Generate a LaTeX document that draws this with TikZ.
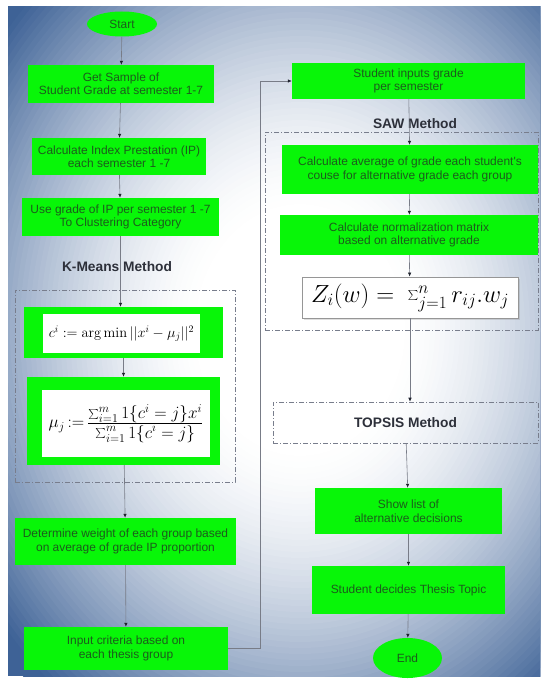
\documentclass[tikz,border=0pt]{standalone}
\usepackage{fontspec}
\newfontfamily\boxfont{Liberation Sans}
\usetikzlibrary{arrows.meta,shapes.geometric,shadows}
\definecolor{boxgreen}{RGB}{8,246,8}
\definecolor{boxtext}{RGB}{28,92,28}
\definecolor{linegray}{RGB}{120,124,135}
\definecolor{tipdark}{RGB}{30,34,45}
\definecolor{framegray}{RGB}{120,125,140}
\definecolor{labelgray}{RGB}{45,48,58}
\definecolor{zborder}{RGB}{150,150,150}
\definecolor{paneldark}{RGB}{62,98,150}
\begin{document}
\begin{tikzpicture}[x=1bp,y=-1bp,>={Latex[length=4bp,width=3.5bp,color=tipdark]},
  greenbox/.style={fill=boxgreen,text=boxtext,align=center,inner sep=0pt,
    font=\boxfont\fontsize{12}{13.5}\selectfont},
  terminal/.style={ellipse,greenbox},
  flowline/.style={draw=linegray,line width=0.6bp},
  groupframe/.style={draw=framegray,line width=0.6bp,dash pattern=on 5bp off 2bp on 1bp off 2bp},
  methodlabel/.style={text=labelgray,inner sep=1bp,font=\boxfont\bfseries\fontsize{13.8}{16}\selectfont},
]
\useasboundingbox (0,0) rectangle (545,682);
  % Background panel
\begin{scope}
\clip (8,7) rectangle (540,676);
\fill[paneldark] (8,7) rectangle (540,676);
\foreach \k in {0,...,60}{
  \pgfmathsetmacro\rr{1-\k/60*0.75}
  \pgfmathsetmacro\pp{max(0,min(100,100*(1-((\rr-0.25)/0.72)^1.6)))}
  \fill[white!\pp!paneldark] (300,330) ellipse [x radius=400*\rr, y radius=480*\rr];
}
\end{scope}
  % Frames
\node[groupframe,minimum width=220bp,minimum height=192bp] (kmframe) at (125,386) {};
\node[groupframe,minimum width=273bp,minimum height=198bp] (sawframe) at (401.5,231) {};
  % Node: left column
\node[terminal,minimum width=70bp,minimum height=25bp] (start) at (122,24) {Start};
\node[greenbox,minimum width=186bp,minimum height=38bp] (getsample) at (121,84) {Get Sample of\\Student Grade at semester 1-7};
\node[greenbox,minimum width=174bp,minimum height=37bp] (calcip) at (119,156.5) {Calculate Index Prestation (IP)\\each semester 1 -7};
\node[greenbox,minimum width=197bp,minimum height=38bp] (usegrade) at (120.5,217) {Use grade of IP per semester 1 -7\\To Clustering Category};
\node[methodlabel] (kmlabel) at (117,267) {K-Means Method};
\node[greenbox,minimum width=198bp,minimum height=51bp] (argmin) at (123.5,332.5) {};
\node[fill=white,inner sep=0pt,minimum width=157bp,minimum height=39bp,font=\fontsize{14.5}{16}\selectfont] (argmintext) at (121.5,333.5) {$c^i := \arg\min||x^i-\mu_j||^2$};
\node[greenbox,minimum width=193bp,minimum height=88bp] (centroid) at (123.5,421) {};
\node[fill=white,inner sep=0pt,minimum width=168bp,minimum height=67bp,font=\fontsize{17}{20}\selectfont] (centroidtext) at (126,423.5)
  {$\mu_j\,{:=}\,\frac{\textstyle\sum_{i=1}^{m} 1\{c^i=j\}x^i}{\textstyle\sum_{i=1}^{m} 1\{c^i=j\}}$};
\node[greenbox,minimum width=221bp,minimum height=47bp] (weight) at (125.5,541.5) {Determine weight of each group based\\on average of grade IP proportion};
\node[greenbox,minimum width=204bp,minimum height=43bp] (criteria) at (126,648.5) {Input criteria based on\\each thesis group};
  % Node: right column
\node[greenbox,minimum width=233bp,minimum height=36bp] (gradein) at (408.5,81) {Student inputs grade\\per semester};
\node[methodlabel] (sawlabel) at (415,124) {SAW Method};
\node[greenbox,minimum width=256bp,minimum height=49bp] (average) at (410,169.5) {Calculate average of grade each student's\\couse for alternative grade each group};
\node[greenbox,minimum width=258bp,minimum height=40bp] (normalize) at (409,235) {Calculate normalization matrix\\based on alternative grade};
\node[draw=zborder,fill=white,line width=0.8bp,inner sep=0pt,minimum width=216bp,minimum height=41bp,
  drop shadow={opacity=0.25,shadow xshift=1.5bp,shadow yshift=-1.5bp},font=\fontsize{23}{26}\selectfont] (zsum) at (410,297.5) {$Z_i(w) =\ \sum_{j=1}^{n} r_{ij}.w_j$};
\node[groupframe,methodlabel,minimum width=265bp,minimum height=41bp] (topsis) at (405.5,422.5) {TOPSIS Method};
\node[greenbox,minimum width=187bp,minimum height=46bp] (showlist) at (408.5,511) {Show list of\\alternative decisions};
\node[greenbox,minimum width=193bp,minimum height=48bp] (decide) at (408.5,590) {Student decides Thesis Topic};
\node[terminal,minimum width=69bp,minimum height=40bp] (finish) at (407.5,658) {End};
  % Edges
\draw[flowline,->] (start) -- (getsample);
\draw[flowline,->] (getsample) -- (calcip);
\draw[flowline,->] (calcip) -- (usegrade);
\draw[flowline,->] (usegrade) -- (usegrade |- argmin.north);
\draw[flowline,->] (argmin) -- (centroid);
\draw[flowline,->] (centroid) -- (weight);
\draw[flowline,->] (weight) -- (criteria);
\draw[flowline,->] (criteria.east) -- ++(32,0) |- (gradein.west);
\draw[flowline,->] (gradein) -- (average);
\draw[flowline,->] (average) -- (normalize);
\draw[flowline,->] (normalize) -- (zsum);
\draw[flowline,->] (zsum) -- (zsum |- topsis.north);
\draw[flowline,->] (topsis) -- (showlist);
\draw[flowline,->] (showlist) -- (decide);
\draw[flowline,->] (decide) -- (finish);
%
\end{tikzpicture}
\end{document}
